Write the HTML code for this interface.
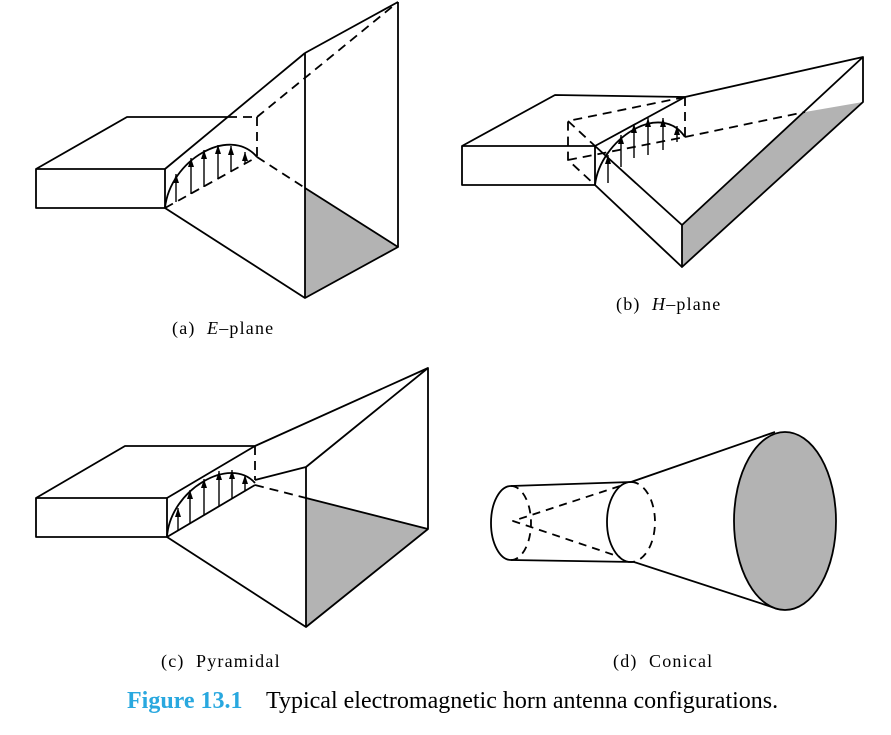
<!DOCTYPE html>
<html><head><style>
body{margin:0;background:#fff;width:891px;height:735px;overflow:hidden}
svg{position:absolute;left:0;top:0}
text{font-family:"Liberation Serif",serif}
.lb{font-size:18px;letter-spacing:1.2px;white-space:pre}
</style></head><body>
<svg width="891" height="735" viewBox="0 0 891 735">
<defs>
<marker id="ah" markerWidth="9" markerHeight="6" refX="9" refY="3" orient="auto" markerUnits="userSpaceOnUse" viewBox="0 0 9 6">
<path d="M0,0 L9,3 L0,6 Z" fill="#000" stroke="none"/>
</marker>
</defs>
<g fill="none" stroke="#000" stroke-width="1.8" stroke-linejoin="round">
<!-- (a) -->
<polygon points="305,188 398,247 305,298" fill="#b3b3b3" stroke="none"/>
<rect x="36" y="169" width="129" height="39"/>
<polyline points="36,169 127,117 228,117"/>
<line x1="165" y1="169" x2="305" y2="53"/>
<line x1="305" y1="53" x2="398" y2="2"/>
<line x1="305" y1="53" x2="305" y2="298"/>
<line x1="398" y1="2" x2="398" y2="247"/>
<polyline points="165,208 305,298 398,247 305,188"/>
<g stroke-dasharray="9,6">
<line x1="228" y1="117" x2="257" y2="117"/>
<line x1="257" y1="117" x2="257" y2="157"/>
<line x1="257" y1="117" x2="398" y2="2"/>
<line x1="165" y1="208" x2="257" y2="157"/>
<line x1="257" y1="157" x2="305" y2="188"/>
</g>
<path d="M165,208 C170,160 230,125 257,157"/>
<g stroke-width="1.4" marker-end="url(#ah)">
<line x1="176" y1="202" x2="176" y2="174"/>
<line x1="191" y1="194" x2="191" y2="158"/>
<line x1="204" y1="187" x2="204" y2="150"/>
<line x1="218" y1="179" x2="218" y2="145"/>
<line x1="231" y1="172" x2="231" y2="146"/>
<line x1="245" y1="164" x2="245" y2="152"/>
</g>
<!-- (b) -->
<polygon points="682,225 805,112 863,102 682,267" fill="#b3b3b3" stroke="none"/>
<rect x="462" y="146" width="133" height="39"/>
<polyline points="462,146 555,95 685,97 863,57 863,102 682,267 682,225 863,57"/>
<line x1="595" y1="146" x2="685" y2="97"/>
<line x1="595" y1="146" x2="682" y2="225"/>
<line x1="595" y1="185" x2="682" y2="267"/>
<g stroke-dasharray="9,6">
<polyline points="685,97 568,121 568,160 595,185"/>
<line x1="568" y1="121" x2="595" y2="146"/>
<line x1="568" y1="160" x2="685" y2="137"/>
<line x1="685" y1="97" x2="685" y2="137"/>
<line x1="685" y1="137" x2="805" y2="112"/>
</g>
<path d="M595,185 C600,140 660,100 685,137"/>
<g stroke-width="1.4" marker-end="url(#ah)">
<line x1="608" y1="183" x2="608" y2="155"/>
<line x1="621" y1="167" x2="621" y2="135"/>
<line x1="634" y1="158" x2="634" y2="124"/>
<line x1="648" y1="155" x2="648" y2="118"/>
<line x1="663" y1="150" x2="663" y2="118"/>
<line x1="677" y1="142" x2="677" y2="126"/>
</g>
<!-- (c) -->
<polygon points="306,498 428,529 306,627" fill="#b3b3b3" stroke="none"/>
<rect x="36" y="498" width="131" height="39"/>
<polyline points="36,498 125,446 255,446 428,368 428,529 306,627 167,537"/>
<line x1="167" y1="498" x2="255" y2="446"/>
<polyline points="255,480 306,467 428,368"/>
<line x1="306" y1="467" x2="306" y2="627"/>
<line x1="306" y1="498" x2="428" y2="529"/>
<line x1="167" y1="537" x2="255" y2="485"/>
<g stroke-dasharray="9,6">
<line x1="255" y1="446" x2="255" y2="480"/>
<line x1="255" y1="485" x2="306" y2="498"/>
</g>
<path d="M167,537 C170,490 230,455 255,483"/>
<g stroke-width="1.4" marker-end="url(#ah)">
<line x1="178" y1="530" x2="178" y2="508"/>
<line x1="190" y1="523" x2="190" y2="490"/>
<line x1="204" y1="515" x2="204" y2="479"/>
<line x1="219" y1="506" x2="219" y2="471"/>
<line x1="232" y1="498" x2="232" y2="470"/>
<line x1="245" y1="491" x2="245" y2="475"/>
</g>
<!-- (d) -->
<line x1="511" y1="486" x2="631" y2="482"/>
<line x1="511" y1="560" x2="634" y2="562"/>
<line x1="631" y1="482" x2="775" y2="432"/>
<line x1="634" y1="562" x2="778" y2="609"/>
<ellipse cx="785" cy="521" rx="51" ry="89" fill="#b3b3b3"/>
<path d="M511,486 A20,37 0 0,0 511,560"/>
<path d="M631,482 A24,40 0 0,0 631,562"/>
<g stroke-dasharray="8,6">
<path d="M511,486 A20,37 0 0,1 511,560"/>
<path d="M631,482 A24,40 0 0,1 631,562"/>
<polyline points="620,486 513,521 620,557"/>
</g>
</g>
<text class="lb" x="172" y="334">(a)  <tspan font-style="italic">E</tspan>–plane</text>
<text class="lb" x="616" y="310">(b)  <tspan font-style="italic">H</tspan>–plane</text>
<text class="lb" x="161" y="667">(c)  Pyramidal</text>
<text class="lb" x="613" y="667">(d)  Conical</text>
<text x="127" y="708" font-size="24" font-weight="bold" fill="#29a8df">Figure 13.1</text>
<text x="266" y="708" font-size="24">Typical electromagnetic horn antenna configurations.</text>
</svg>
</body></html>
